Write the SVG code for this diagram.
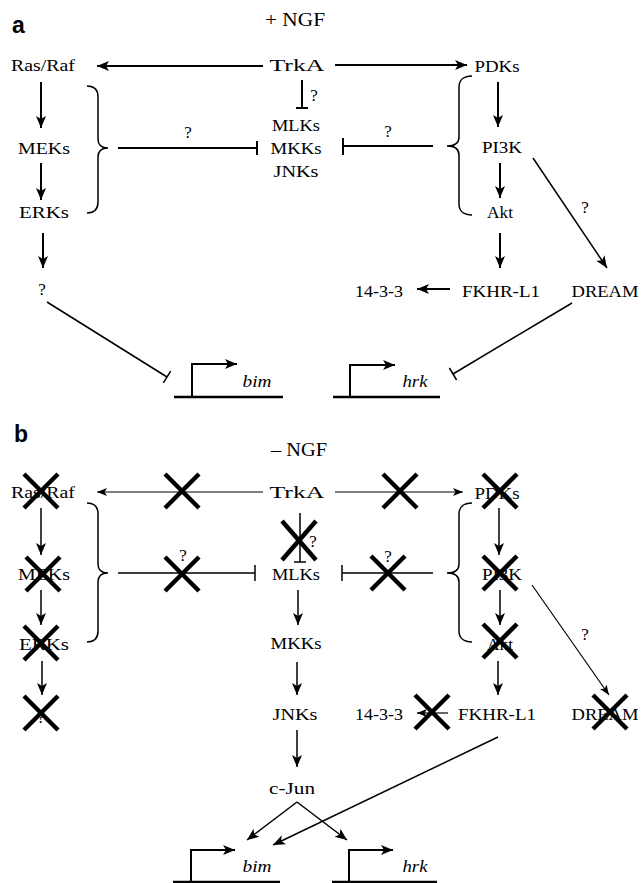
<svg xmlns="http://www.w3.org/2000/svg" width="642" height="883" viewBox="0 0 642 883">
<style>
text{font-family:"Liberation Serif","Times New Roman",serif;font-size:17px;fill:#000;text-anchor:middle}
text.lbl{font-family:"Liberation Sans",Arial,sans-serif;font-weight:bold;font-size:23px;text-anchor:start}
text.it{font-style:italic}
.c line,.c path{stroke:#000;fill:none}
.k{stroke-width:2}
.m{stroke-width:1.5}
.n{stroke-width:1.2}
.x line{stroke:#000;stroke-width:4.5}
.ar{marker-end:url(#ah)}
.as{marker-end:url(#ahs)}
</style>
<defs>
<marker id="ah" markerUnits="userSpaceOnUse" markerWidth="14" markerHeight="12" refX="12" refY="5" orient="auto"><path d="M0,0 L12,5 L0,10 L3,5 z" fill="#000"/></marker>
<marker id="ahs" markerUnits="userSpaceOnUse" markerWidth="12" markerHeight="10" refX="10" refY="4" orient="auto"><path d="M0,0 L10,4 L0,8 L2.5,4 z" fill="#000"/></marker>
</defs>
<rect width="642" height="883" fill="#fff"/>

<!-- Panel a -->
<g id="panel-a-label"><text class="lbl" x="12" y="33">a</text></g>
<g id="a-ngf"><text x="295" y="26" style="font-size:18px" textLength="60" lengthAdjust="spacingAndGlyphs">+ NGF</text></g>
<g id="a-rasraf"><text x="43" y="71" textLength="64" lengthAdjust="spacingAndGlyphs">Ras/Raf</text></g>
<g id="a-trka"><text x="297" y="71" textLength="55" lengthAdjust="spacingAndGlyphs">TrkA</text></g>
<g id="a-pdks"><text x="497" y="72" textLength="45" lengthAdjust="spacingAndGlyphs">PDKs</text></g>
<g id="a-mlks"><text x="296" y="131" textLength="48" lengthAdjust="spacingAndGlyphs">MLKs</text></g>
<g id="a-mkks"><text x="296" y="154" textLength="51" lengthAdjust="spacingAndGlyphs">MKKs</text></g>
<g id="a-jnks"><text x="296" y="177" textLength="45" lengthAdjust="spacingAndGlyphs">JNKs</text></g>
<g id="a-meks"><text x="44" y="154" textLength="52" lengthAdjust="spacingAndGlyphs">MEKs</text></g>
<g id="a-pi3k"><text x="502" y="153" textLength="40" lengthAdjust="spacingAndGlyphs">PI3K</text></g>
<g id="a-erks"><text x="44" y="218" textLength="50" lengthAdjust="spacingAndGlyphs">ERKs</text></g>
<g id="a-akt"><text x="500" y="218" textLength="26" lengthAdjust="spacingAndGlyphs">Akt</text></g>
<g id="a-q"><text x="42" y="295">?</text></g>
<g id="a-1433"><text x="379" y="297" textLength="48" lengthAdjust="spacingAndGlyphs">14-3-3</text></g>
<g id="a-fkhr"><text x="501" y="297" textLength="78" lengthAdjust="spacingAndGlyphs">FKHR-L1</text></g>
<g id="a-dream"><text x="605" y="297" textLength="67" lengthAdjust="spacingAndGlyphs">DREAM</text></g>
<g id="a-bim"><text class="it" x="257" y="387" textLength="29" lengthAdjust="spacingAndGlyphs">bim</text></g>
<g id="a-hrk"><text class="it" x="415" y="387" textLength="25" lengthAdjust="spacingAndGlyphs">hrk</text></g>
<g id="a-qlabels">
<text x="314" y="101">?</text>
<text x="188" y="138">?</text>
<text x="388" y="137">?</text>
<text x="585" y="213">?</text>
</g>

<g id="a-connectors" class="c">
<line class="k ar" x1="263" y1="66" x2="97" y2="66"/>
<line class="k ar" x1="335" y1="65" x2="467" y2="65"/>
<line class="k" x1="302" y1="80" x2="302" y2="108"/>
<line class="k" x1="296" y1="108" x2="308" y2="108"/>
<line class="k ar" x1="41" y1="82" x2="41" y2="128"/>
<line class="k ar" x1="41" y1="163" x2="41" y2="200"/>
<path class="m" d="M87,86 C95,86 98,90 98,97 L98,139 C98,145 102,148 108,148 C102,148 98,151 98,157 L98,202 C98,209 95,213 87,213"/>
<line class="k" x1="118" y1="148" x2="257" y2="148"/>
<line class="k" x1="257" y1="141" x2="257" y2="155"/>
<line class="k" x1="433" y1="146" x2="343" y2="146"/>
<line class="k" x1="343" y1="138" x2="343" y2="155"/>
<path class="m" d="M472,76 C464,76 459,80 459,87 L459,137 C459,143 455,146 447,146 C455,146 459,149 459,155 L459,204 C459,211 464,215 472,215"/>
<line class="k ar" x1="498" y1="82" x2="498" y2="127"/>
<line class="k ar" x1="500" y1="163" x2="500" y2="198"/>
<line class="m ar" x1="533" y1="158" x2="607" y2="268"/>
<line class="k ar" x1="43" y1="233" x2="43" y2="268"/>
<line class="k ar" x1="500" y1="233" x2="500" y2="268"/>
<line class="k ar" x1="450" y1="289" x2="417" y2="289"/>
<line class="m" x1="47" y1="302" x2="167" y2="377"/>
<line class="m" x1="163.3" y1="382.9" x2="170.7" y2="371.1"/>
<line class="m" x1="572" y1="303" x2="453" y2="374"/>
<line class="m" x1="456.6" y1="380" x2="449.4" y2="368"/>
<line class="k" x1="174" y1="397" x2="283" y2="397" style="stroke-width:2.5"/>
<path class="k ar" d="M192,397 V364 H237"/>
<line class="k" x1="333" y1="397" x2="440" y2="397" style="stroke-width:2.5"/>
<path class="k ar" d="M350,397 V365 H395"/>
</g>

<!-- Panel b -->
<g id="panel-b-label"><text class="lbl" x="14" y="442">b</text></g>
<g id="b-ngf"><text x="299" y="456" style="font-size:18px" textLength="56" lengthAdjust="spacingAndGlyphs">– NGF</text></g>
<g id="b-rasraf"><text x="43" y="498" textLength="64" lengthAdjust="spacingAndGlyphs">Ras/Raf</text></g>
<g id="b-trka"><text x="297" y="498" textLength="55" lengthAdjust="spacingAndGlyphs">TrkA</text></g>
<g id="b-pdks"><text x="497" y="499" textLength="45" lengthAdjust="spacingAndGlyphs">PDKs</text></g>
<g id="b-meks"><text x="44" y="580" textLength="52" lengthAdjust="spacingAndGlyphs">MEKs</text></g>
<g id="b-mlks"><text x="296" y="580" textLength="48" lengthAdjust="spacingAndGlyphs">MLKs</text></g>
<g id="b-pi3k"><text x="502" y="580" textLength="40" lengthAdjust="spacingAndGlyphs">PI3K</text></g>
<g id="b-erks"><text x="44" y="650" textLength="50" lengthAdjust="spacingAndGlyphs">ERKs</text></g>
<g id="b-mkks"><text x="296" y="649" textLength="51" lengthAdjust="spacingAndGlyphs">MKKs</text></g>
<g id="b-akt"><text x="500" y="650" textLength="26" lengthAdjust="spacingAndGlyphs">Akt</text></g>
<g id="b-q"><text x="41" y="723">?</text></g>
<g id="b-jnks"><text x="295" y="720" textLength="45" lengthAdjust="spacingAndGlyphs">JNKs</text></g>
<g id="b-1433"><text x="379" y="720" textLength="48" lengthAdjust="spacingAndGlyphs">14-3-3</text></g>
<g id="b-fkhr"><text x="497" y="720" textLength="78" lengthAdjust="spacingAndGlyphs">FKHR-L1</text></g>
<g id="b-dream"><text x="605" y="720" textLength="67" lengthAdjust="spacingAndGlyphs">DREAM</text></g>
<g id="b-cjun"><text x="292" y="794" textLength="46" lengthAdjust="spacingAndGlyphs">c-Jun</text></g>
<g id="b-bim"><text class="it" x="257" y="872" textLength="29" lengthAdjust="spacingAndGlyphs">bim</text></g>
<g id="b-hrk"><text class="it" x="415" y="872" textLength="25" lengthAdjust="spacingAndGlyphs">hrk</text></g>
<g id="b-qlabels">
<text x="313" y="547">?</text>
<text x="183" y="561">?</text>
<text x="388" y="562">?</text>
<text x="585" y="640">?</text>
</g>

<g id="b-connectors" class="c">
<line class="n as" x1="263" y1="492" x2="97" y2="492"/>
<line class="n as" x1="335" y1="492" x2="463" y2="492"/>
<line class="m" x1="300" y1="513" x2="300" y2="562"/>
<line class="m" x1="294" y1="562" x2="306" y2="562"/>
<line class="m ar" x1="41" y1="508" x2="41" y2="555"/>
<line class="m ar" x1="41" y1="590" x2="41" y2="625"/>
<path class="m" d="M87,503 C95,503 98,507 98,514 L98,564 C98,570 102,573 108,573 C102,573 98,576 98,582 L98,631 C98,638 95,642 87,642"/>
<line class="m" x1="118" y1="573" x2="255" y2="573"/>
<line class="m" x1="255" y1="565" x2="255" y2="581"/>
<line class="m" x1="433" y1="573" x2="342" y2="573"/>
<line class="m" x1="342" y1="565" x2="342" y2="581"/>
<path class="m" d="M472,503 C464,503 459,507 459,514 L459,564 C459,570 455,573 447,573 C455,573 459,576 459,582 L459,631 C459,638 464,642 472,642"/>
<line class="m ar" x1="499" y1="508" x2="499" y2="555"/>
<line class="m ar" x1="500" y1="590" x2="500" y2="625"/>
<line class="n as" x1="532" y1="585" x2="609" y2="695"/>
<line class="m ar" x1="298" y1="590" x2="298" y2="625"/>
<line class="m ar" x1="297" y1="662" x2="297" y2="695"/>
<line class="m ar" x1="297" y1="730" x2="297" y2="767"/>
<line class="m ar" x1="42" y1="661" x2="42" y2="695"/>
<line class="m ar" x1="498" y1="661" x2="498" y2="695"/>
<line class="n as" x1="448" y1="713" x2="417" y2="713"/>
<line class="m ar" x1="297" y1="802" x2="247" y2="840"/>
<line class="m ar" x1="297" y1="802" x2="347" y2="840"/>
<line class="m ar" x1="498" y1="737" x2="273" y2="845"/>
<line class="k" x1="173" y1="882" x2="280" y2="882" style="stroke-width:2.5"/>
<path class="k ar" d="M191,882 V850 H235"/>
<line class="k" x1="332" y1="882" x2="437" y2="882" style="stroke-width:2.5"/>
<path class="k ar" d="M349,882 V850 H393"/>
</g>

<g id="b-crosses" class="x">
<path d="M0,0" fill="none"/>
<line x1="24" y1="474" x2="58" y2="508"/><line x1="58" y1="474" x2="24" y2="508"/>
<line x1="165" y1="474" x2="199" y2="508"/><line x1="199" y1="474" x2="165" y2="508"/>
<line x1="383" y1="474" x2="417" y2="508"/><line x1="417" y1="474" x2="383" y2="508"/>
<line x1="483" y1="474" x2="517" y2="508"/><line x1="517" y1="474" x2="483" y2="508"/>
<line x1="282" y1="521" x2="316" y2="560"/><line x1="316" y1="521" x2="282" y2="560"/>
<line x1="165" y1="557" x2="199" y2="591"/><line x1="199" y1="557" x2="165" y2="591"/>
<line x1="371" y1="556" x2="405" y2="590"/><line x1="405" y1="556" x2="371" y2="590"/>
<line x1="26" y1="557" x2="60" y2="591"/><line x1="60" y1="557" x2="26" y2="591"/>
<line x1="483" y1="556" x2="517" y2="590"/><line x1="517" y1="556" x2="483" y2="590"/>
<line x1="24" y1="626" x2="58" y2="660"/><line x1="58" y1="626" x2="24" y2="660"/>
<line x1="483" y1="624" x2="517" y2="658"/><line x1="517" y1="624" x2="483" y2="658"/>
<line x1="24" y1="696" x2="58" y2="730"/><line x1="58" y1="696" x2="24" y2="730"/>
<line x1="415" y1="695" x2="449" y2="729"/><line x1="449" y1="695" x2="415" y2="729"/>
<line x1="593" y1="695" x2="627" y2="729"/><line x1="627" y1="695" x2="593" y2="729"/>
</g>
</svg>
